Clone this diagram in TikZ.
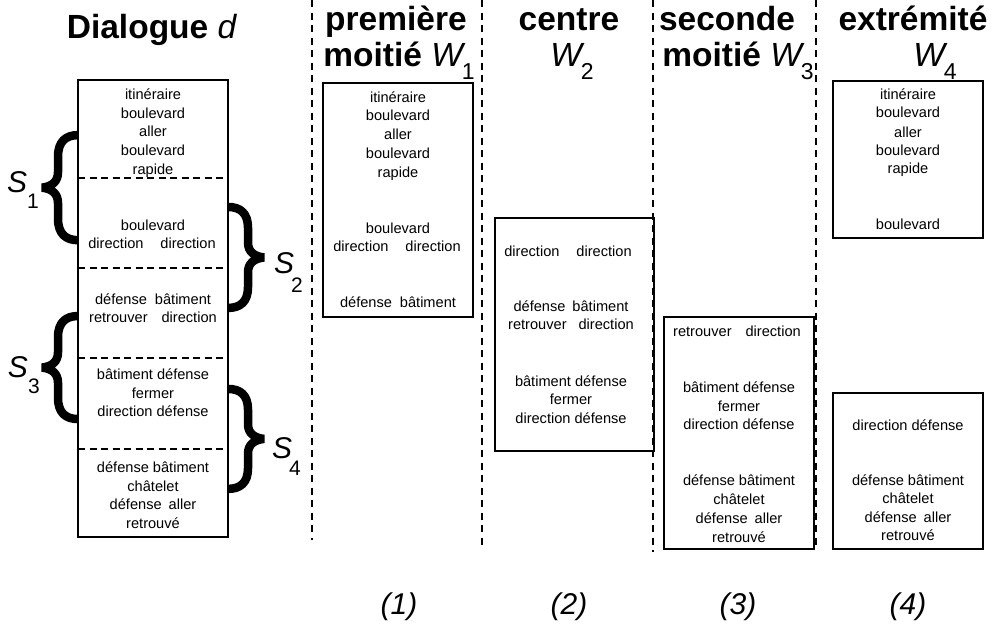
\documentclass[tikz,border=0pt]{standalone}
\usepackage{fontspec}
\setmainfont{Liberation Sans}
\newcommand{\Wsub}[1]{{\itshape W}\kern-1pt\raisebox{-13pt}{\fontsize{23}{23}\selectfont #1}}
\newcommand{\Slab}[3]{{\itshape S}\kern#1\raisebox{#2}{\fontsize{21}{21}\selectfont\upshape #3}}
\newcommand{\bracedraw}{%
  \draw[line width=8.5pt, line join=bevel, line cap=butt]
    (0,4) .. controls (12,4) and (20,10) .. (20,25) -- (20,40)
    .. controls (20,49) and (26,54) .. (36,55)
    .. controls (26,56) and (20,61) .. (20,70) -- (20,85)
    .. controls (20,100) and (12,106) .. (0,106);}
\begin{document}
\begin{tikzpicture}[x=1pt,y=-1pt,
  every node/.style={inner sep=0pt, outer sep=0pt},
  word/.style={font=\fontsize{14.6}{14.6}\selectfont, anchor=base},
  head/.style={font=\fontsize{33.5}{33.5}\selectfont, anchor=base},
  box/.style={draw, line width=1.3pt},
  sepline/.style={dash pattern=on 7pt off 4.5pt, line width=1.2pt},
  colline/.style={dash pattern=on 7pt off 5.5pt, line width=1.7pt},
  slab/.style={font=\fontsize{30}{30}\selectfont, anchor=base west},
  num/.style={font=\fontsize{30}{30}\selectfont\itshape, anchor=base}
]
\useasboundingbox (0,0) rectangle (1001,630);

% braces
\begin{scope}[shift={(78,131)}, xscale=-1, yscale=1.03] \bracedraw \end{scope}
\begin{scope}[shift={(228,203)}, yscale=0.99] \bracedraw \end{scope}
\begin{scope}[shift={(78,312)}, xscale=-1, yscale=1.01] \bracedraw \end{scope}
\begin{scope}[shift={(228,385)}, yscale=0.98] \bracedraw \end{scope}

% column separators
\draw[colline] (312,0) -- (312,540);
\draw[colline] (482,0) -- (482,545);
\draw[colline] (653,0) -- (653,552);
\draw[colline] (816,0) -- (816,545);

% headers
\node[head] (hd) at (152,38) {\textbf{Dialogue} \textit{d}};
\node[head] (h1a) at (396,30) {\textbf{première}};
\node[head] (h1b) at (399,66) {\textbf{moitié} \Wsub{1}};
\node[head] (h2a) at (569,30) {\textbf{centre}};
\node[head] (h2b) at (572,66) {\Wsub{2}};
\node[head] (h3a) at (727,30) {\textbf{seconde}};
\node[head] (h3b) at (738,66) {\textbf{moitié} \Wsub{3}};
\node[head] (h4a) at (913,30) {\textbf{extrémité}};
\node[head] (h4b) at (935,66) {\Wsub{4}};

% dialogue box
\node[box, minimum width=150pt, minimum height=457pt, anchor=north west] (dbox) at (78,80) {};
\draw[sepline] (78,178) -- (228,178);
\draw[sepline] (78,268) -- (228,268);
\draw[sepline] (78,358) -- (228,358);
\draw[sepline] (78,449) -- (228,449);

\node[word] (l1) at (153,99) {itinéraire};
\node[word] (l2) at (153,118) {boulevard};
\node[word] (l3) at (153,136) {aller};
\node[word] (l4) at (153,155) {boulevard};
\node[word] (l5) at (153,174) {rapide};
\node[word] (l6) at (153,230) {boulevard};
\node[word] (l7) at (152,248) {direction\hspace{17pt}direction};
\node[word] (l8) at (153,304) {défense\hspace{8pt}bâtiment};
\node[word] (l9) at (153,322) {retrouver\hspace{14pt}direction};
\node[word] (l10) at (153,379) {bâtiment défense};
\node[word] (l11) at (153,398) {fermer};
\node[word] (l12) at (153,416) {direction défense};
\node[word] (l13) at (153,472) {défense bâtiment};
\node[word] (l14) at (153,491) {châtelet};
\node[word] (l15) at (153,509) {défense\hspace{7pt}aller};
\node[word] (l16) at (153,528) {retrouvé};

\node[slab] (s1) at (7,192) {\Slab{0pt}{-16pt}{1}};
\node[slab] (s2) at (274,273) {\Slab{-3pt}{-19pt}{2}};
\node[slab] (s3) at (8,377) {\Slab{0pt}{-16pt}{3}};
\node[slab] (s4) at (272,458) {\Slab{-3pt}{-17pt}{4}};

% W1
\node[box, minimum width=150pt, minimum height=234pt, anchor=north west] (w1) at (323,83) {};
\node[word] (a1) at (398,102) {itinéraire};
\node[word] (a2) at (398,120) {boulevard};
\node[word] (a3) at (398,139) {aller};
\node[word] (a4) at (398,158) {boulevard};
\node[word] (a5) at (398,177) {rapide};
\node[word] (a6) at (398,233) {boulevard};
\node[word] (a7) at (397,251) {direction\hspace{17pt}direction};
\node[word] (a8) at (398,307) {défense\hspace{8pt}bâtiment};

% W2
\node[box, minimum width=159pt, minimum height=233pt, anchor=north west] (w2) at (495,218) {};
\node[word] (b1t) at (568,256) {direction\hspace{17pt}direction};
\node[word] (b2t) at (571,311) {défense\hspace{7pt}bâtiment};
\node[word] (b3t) at (571,329) {retrouver\hspace{12pt}direction};
\node[word] (b4t) at (571,386) {bâtiment défense};
\node[word] (b5t) at (571,404) {fermer};
\node[word] (b6t) at (571,423) {direction défense};

% W3
\node[box, minimum width=150pt, minimum height=232pt, anchor=north west] (w3) at (664,317) {};
\node[word] (c1) at (737,336) {retrouver\hspace{14pt}direction};
\node[word] (c2) at (739,392) {bâtiment défense};
\node[word] (c3) at (739,411) {fermer};
\node[word] (c4) at (739,429) {direction défense};
\node[word] (c5) at (739,485) {défense bâtiment};
\node[word] (c6) at (739,504) {châtelet};
\node[word] (c7) at (739,523) {défense\hspace{7pt}aller};
\node[word] (c8) at (739,542) {retrouvé};

% W4 top
\node[box, minimum width=150pt, minimum height=157pt, anchor=north west] (w4a) at (833,81) {};
\node[word] (d1) at (908,99) {itinéraire};
\node[word] (d2) at (908,117) {boulevard};
\node[word] (d3) at (908,137) {aller};
\node[word] (d4) at (908,155) {boulevard};
\node[word] (d5) at (908,173) {rapide};
\node[word] (d6) at (908,229) {boulevard};

% W4 bottom
\node[box, minimum width=150pt, minimum height=156pt, anchor=north west] (w4b) at (833,393) {};
\node[word] (e1) at (908,430) {direction défense};
\node[word] (e2) at (908,485) {défense bâtiment};
\node[word] (e3) at (908,503) {châtelet};
\node[word] (e4) at (908,522) {défense\hspace{7pt}aller};
\node[word] (e5) at (908,540) {retrouvé};

% numbers
\node[num] (n1) at (399,614) {(1)};
\node[num] (n2) at (569,614) {(2)};
\node[num] (n3) at (738,614) {(3)};
\node[num] (n4) at (908,614) {(4)};
\end{tikzpicture}
\end{document}
